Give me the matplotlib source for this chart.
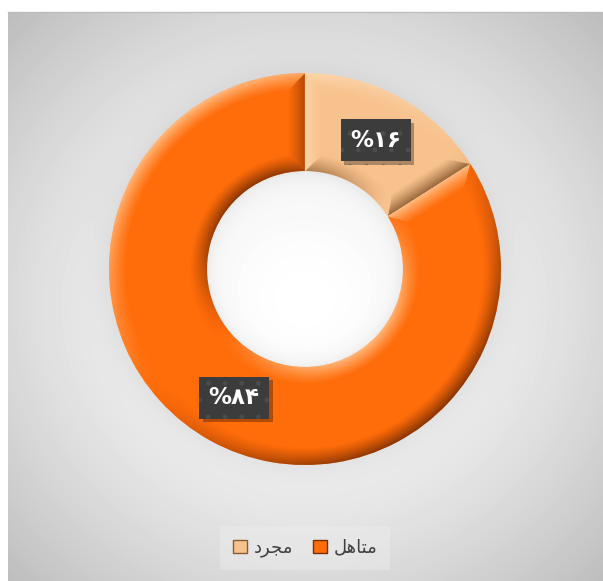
import numpy as np
import matplotlib
matplotlib.use("Agg")
import matplotlib.pyplot as plt
import matplotlib.patheffects as pe
from matplotlib.colors import to_rgb

# ---- data -------------------------------------------------------------
categories = ["مجرد", "متاهل"]
values = [16, 84]
colors = ["#F8C28E", "#FF6C0A"]
rim_colors = ["#8a5a30", "#7a2e00"]

# ---- helpers ------------------------------------------------------------
FA_DIGITS = "۰۱۲۳۴۵۶۷۸۹"


def fa_num(n):
    return "".join(FA_DIGITS[int(c)] for c in str(n))


# contextual forms: isolated, final, initial, medial
FORMS = {
    "ا": ("\uFE8D", "\uFE8E", None, None),
    "ت": ("\uFE95", "\uFE96", "\uFE97", "\uFE98"),
    "ج": ("\uFE9D", "\uFE9E", "\uFE9F", "\uFEA0"),
    "د": ("\uFEA9", "\uFEAA", None, None),
    "ر": ("\uFEAD", "\uFEAE", None, None),
    "ل": ("\uFEDD", "\uFEDE", "\uFEDF", "\uFEE0"),
    "م": ("\uFEE1", "\uFEE2", "\uFEE3", "\uFEE4"),
    "ه": ("\uFEE9", "\uFEEA", "\uFEEB", "\uFEEC"),
}


def shape(word):
    """Join Arabic-script letters and put them in visual (LTR) order."""
    out = []
    n = len(word)
    for i, ch in enumerate(word):
        iso, fin, ini, med = FORMS[ch]
        prev_joins = i > 0 and FORMS[word[i - 1]][2] is not None
        next_joins = i < n - 1 and ini is not None
        if prev_joins and next_joins:
            g = med
        elif prev_joins:
            g = fin
        elif next_joins:
            g = ini
        else:
            g = iso
        out.append(g)
    return "".join(reversed(out))


# ---- figure -------------------------------------------------------------
W, H = 603, 581
fig = plt.figure(figsize=(W / 100, H / 100), dpi=100, facecolor="white")

# donut placement in pixels
cx_px, cy_px, R_px = 305, 269, 196
half = 212

# chart-area background: soft radial gradient with a glow around the ring
bg = fig.add_axes([8 / W, 0, (W - 8) / W, (H - 12) / H])
ys, xs = np.mgrid[12:H, 8:W] + 0.5
rg = np.hypot((xs - 305) / 300.0, (ys - 300) / 285.0)
v = 1.0 - 0.15 * rg ** 1.6
rr = np.hypot(xs - cx_px, ys - cy_px)
R_in_px = R_px * 0.5
halo = np.where(rr > R_px, np.exp(-(rr - R_px) / 16.0), 0.0)
halo += np.where(rr < R_in_px, np.exp(-(R_in_px - rr) / 8.0), 0.0)
v = np.clip(v - 0.05 * halo, 0, 1)
bg.imshow(v, cmap="gray", vmin=0, vmax=1, aspect="auto",
          interpolation="bilinear", extent=(0, 1, 0, 1))
bg.set_xticks([])
bg.set_yticks([])
for k, s in bg.spines.items():
    s.set_visible(k == "top")
bg.spines["top"].set_color("#bdbdbd")
bg.spines["top"].set_linewidth(1.0)

# donut axes
ax = fig.add_axes([(cx_px - half) / W, (H - cy_px - half) / H,
                   2 * half / W, 2 * half / H])


def pct_label(p):
    return "%" + fa_num(int(round(p)))


wedges, texts, autotexts = ax.pie(
    values, colors=colors, startangle=90, counterclock=False,
    radius=1.0, wedgeprops=dict(width=0.5, edgecolor="none", linewidth=0),
    autopct=pct_label, pctdistance=0.75,
)
lim = half / R_px
ax.set_xlim(-lim, lim)
ax.set_ylim(-lim, lim)
ax.axis("off")
ax.patch.set_alpha(0)

# bevel shading over each slice
N = 700
g = np.linspace(-1.0, 1.0, N)
X, Y = np.meshgrid(g, g[::-1])
Rg = np.hypot(X, Y)
Phi = np.degrees(np.arctan2(Y, X))
ca, sa = np.cos(np.radians(Phi)), np.sin(np.radians(Phi))
Lx, Ly = -0.62, 0.78
bev = 0.09
for w, rim in zip(wedges, rim_colors):
    t1, t2 = w.theta1, w.theta2
    r_out = w.r
    r_in = w.r - w.width
    ph = (Phi - t1) % 360 + t1
    D = np.stack([r_out - Rg, Rg - r_in,
                  Rg * np.radians(ph - t1), Rg * np.radians(t2 - ph)])
    radial = ca * Lx + sa * Ly
    a1, a2 = np.radians(t1), np.radians(t2)
    ND = np.stack([radial, -radial,
                   np.full_like(Rg, np.sin(a1) * Lx - np.cos(a1) * Ly),
                   np.full_like(Rg, -np.sin(a2) * Lx + np.cos(a2) * Ly)])
    idx = np.argmin(D, axis=0)
    dmin = D.min(axis=0)
    nd = np.take_along_axis(ND, idx[None], 0)[0]
    prof = np.clip(1 - dmin / bev, 0, 1) ** 1.2
    s = nd * prof
    rgba = np.zeros((N, N, 4))
    hi = np.array([1.0, 0.93, 0.8])
    lo = np.array(to_rgb(rim))
    rgba[..., :3] = np.where(s[..., None] > 0, hi, lo)
    rgba[..., 3] = np.where(s > 0, 0.6 * s, 0.9 * -s)
    im = ax.imshow(rgba, extent=(-1, 1, -1, 1), interpolation="bilinear",
                   zorder=w.get_zorder() + 0.5)
    im.set_clip_path(w)

# value labels
for t in autotexts:
    t.set_fontsize(16.5)
    t.set_fontweight("bold")
    t.set_color("white")
    t.set_zorder(10)
    t.set_bbox(dict(boxstyle="square,pad=0.42", facecolor="#3c3c3c",
                    edgecolor="#4c4c4c", linewidth=0, hatch="."))
    t.get_bbox_patch().set_path_effects(
        [pe.SimplePatchShadow(offset=(2.5, -2.5), shadow_rgbFace="black",
                              alpha=0.3), pe.Normal()])

# legend
leg = fig.legend(
    wedges, [shape(c) for c in categories], loc="center",
    bbox_to_anchor=(305 / W, 1 - 548 / H), ncol=2, frameon=True,
    facecolor="#f2f2f2", edgecolor="none", framealpha=0.35, fontsize=13,
    handlelength=0.8, handleheight=0.8, handletextpad=0.35,
    columnspacing=1.1, borderpad=0.7, fancybox=False,
)
for txt in leg.get_texts():
    txt.set_color("#404040")
for h, rim in zip(leg.legend_handles, rim_colors):
    h.set_edgecolor(rim)
    h.set_linewidth(1.0)

fig.savefig("out.png", dpi=100, facecolor="white")
